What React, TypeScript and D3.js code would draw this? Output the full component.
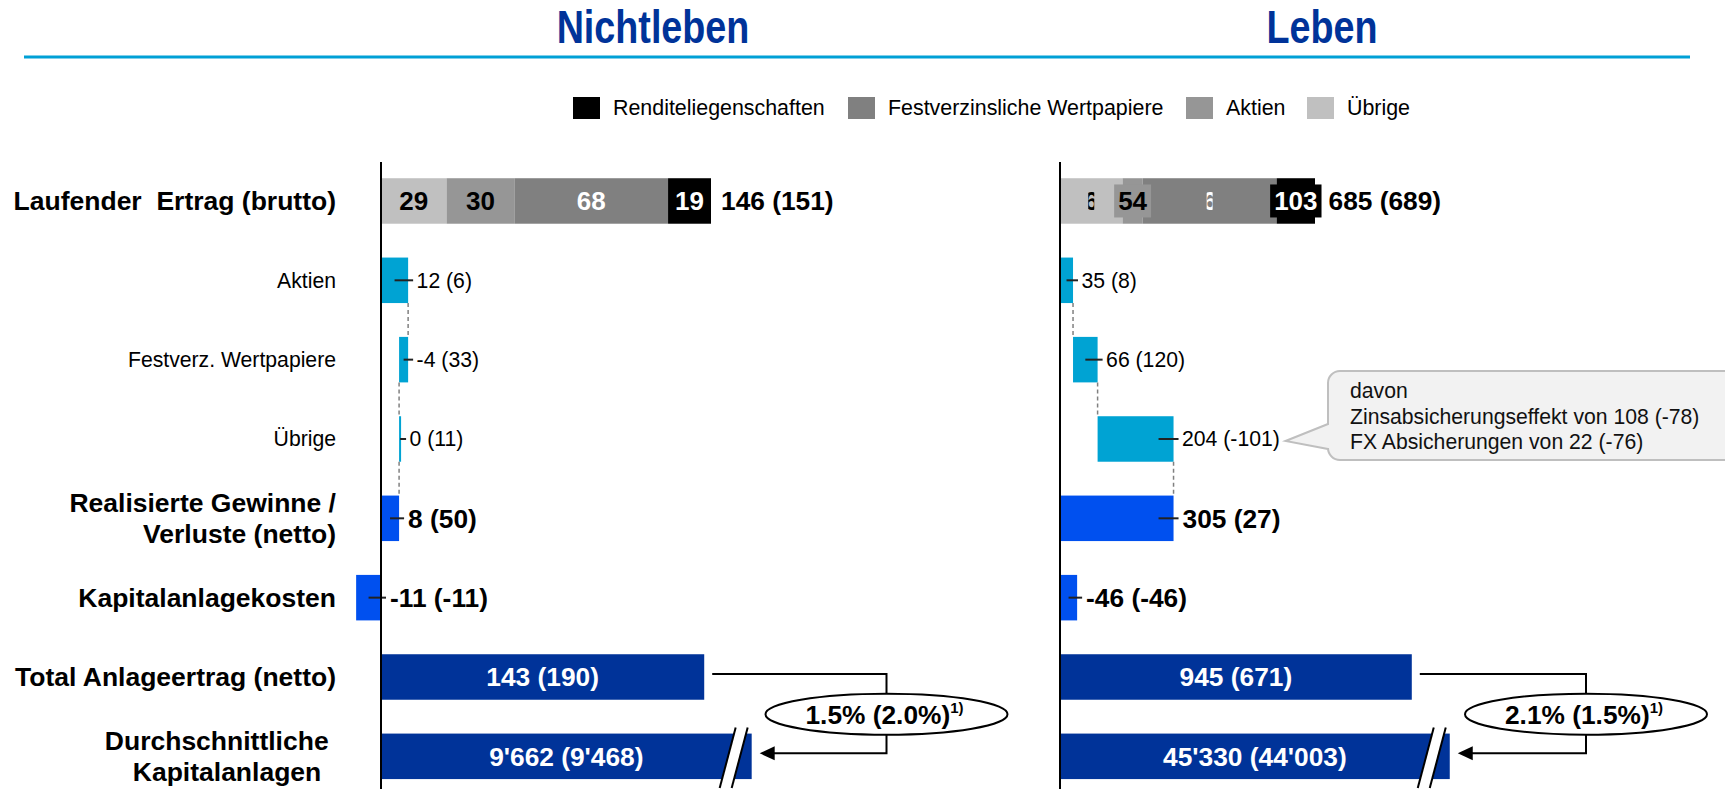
import React from 'react';
import * as d3 from 'd3';

// ---------------- data ----------------
const panels = ['Nichtleben', 'Leben'];

const rowKeys = ['laufend', 'aktien', 'festverz', 'uebrige', 'realisiert', 'kosten', 'total', 'durchschnitt'];
const rowLabels = [
  ['Laufender  Ertrag (brutto)'],
  ['Aktien'],
  ['Festverz. Wertpapiere'],
  ['Übrige'],
  ['Realisierte Gewinne /', 'Verluste (netto)'],
  ['Kapitalanlagekosten'],
  ['Total Anlageertrag (netto)'],
  ['Durchschnittliche ', 'Kapitalanlagen  '],
];
const rowBold = [true, false, false, false, true, true, true, true];

// stacked "Laufender Ertrag" segments, in drawing order (left to right)
const segmentNames = ['Übrige', 'Aktien', 'Festverzinsliche Wertpapiere', 'Renditeliegenschaften'];
const segmentColors = ['#c0c0c0', '#969696', '#808080', '#000000'];
const segmentTextColors = ['#000000', '#000000', '#ffffff', '#ffffff'];
const legendOrder = ['Renditeliegenschaften', 'Festverzinsliche Wertpapiere', 'Aktien', 'Übrige'];

const laufendNichtleben = [29, 30, 68, 19];
const laufendLeben = [168, 54, 360, 103];
const laufendTotalLabels = ['146 (151)', '685 (689)'];
// label display style per segment: full text, label box, or clipped
const laufendLabelModeNichtleben = ['full', 'full', 'full', 'full'];
const laufendLabelModeLeben = ['clip', 'box', 'clip', 'box'];

// waterfall: Aktien, Festverz. Wertpapiere, Übrige
const waterfallNichtleben = [12, -4, 0];
const waterfallLeben = [35, 66, 204];
const waterfallLabelsNichtleben = ['12 (6)', '-4 (33)', '0 (11)'];
const waterfallLabelsLeben = ['35 (8)', '66 (120)', '204 (-101)'];

const realisiertValues = [8, 305];
const realisiertLabels = ['8 (50)', '305 (27)'];
const kostenValues = [-11, -46];
const kostenLabels = ['-11 (-11)', '-46 (-46)'];
const totalValues = [143, 945];
const totalLabels = ['143 (190)', '945 (671)'];
const durchschnittValues = [9662, 45330];
const durchschnittLabels = ["9'662 (9'468)", "45'330 (44'003)"];
// broken bar: shown length on the axis scale
const durchschnittShown = [164, 1047];
const renditeLabels = ['1.5% (2.0%)', '2.1% (1.5%)'];
const calloutLines = ['davon', 'Zinsabsicherungseffekt von 108 (-78)', 'FX Absicherungen von 22 (-76)'];

// ---------------- layout ----------------
const W = 1725;
const H = 789;
const FONT = "'Liberation Sans', Arial, Helvetica, sans-serif";
const AXIS_X = [381, 1060];
const LAUF_END_X = [711, 1315];
const TITLE_X = [653, 1322];
const RATIO_X = [886.5, 1586];
const LEGEND_X = [573, 848, 1186, 1307];
const BLUE_DARK = '#003399';
const BLUE = '#0050ef';
const CYAN = '#00a3d3';

const y = d3.scaleBand<string>().domain(rowKeys).range([161.3, 796]).paddingInner(0.4265).paddingOuter(0.2133);
const yc = (k: string) => (y(k) as number) + y.bandwidth() / 2;
const bh = y.bandwidth();

function approxWidth(s: string, size: number) {
  // rough Arial bold digit widths
  let w = 0;
  for (const ch of s) {
    if (/[0-9]/.test(ch)) w += 0.556;
    else if (ch === ' ') w += 0.278;
    else w += 0.333;
  }
  return w * size;
}

function Panel({ pi }: { pi: number }) {
  const laufend = pi === 0 ? laufendNichtleben : laufendLeben;
  const modes = pi === 0 ? laufendLabelModeNichtleben : laufendLabelModeLeben;
  const wf = pi === 0 ? waterfallNichtleben : waterfallLeben;
  const wfLabels = pi === 0 ? waterfallLabelsNichtleben : waterfallLabelsLeben;
  const lsum = d3.sum(laufend);
  const x = d3.scaleLinear().domain([0, lsum]).range([AXIS_X[pi], LAUF_END_X[pi]]);
  const x0 = x(0);
  const els: React.ReactNode[] = [];

  // stacked first row
  const stack = d3.cumsum(laufend);
  const ry = y('laufend') as number;
  const rc = yc('laufend');
  laufend.forEach((v, i) => {
    const a = x(stack[i] - v);
    const b = x(stack[i]);
    els.push(<rect key={'s' + i} x={a} y={ry} width={b - a} height={bh} fill={segmentColors[i]} />);
  });
  laufend.forEach((v, i) => {
    const a = x(stack[i] - v);
    const b = x(stack[i]);
    const cx = (a + b) / 2;
    const txt = String(v);
    const mode = modes[i];
    if (mode === 'box') {
      const tw = approxWidth(txt, 26) + 8;
      els.push(<rect key={'lb' + i} x={cx - tw / 2} y={rc - 16.5} width={tw} height={33} fill={segmentColors[i]} />);
    }
    if (mode === 'clip') {
      const id = `clip-${pi}-${i}`;
      els.push(
        <g key={'lc' + i}>
          <clipPath id={id}><rect x={cx - 3} y={rc - 16} width={6} height={32} /></clipPath>
          <text clipPath={`url(#${id})`} x={cx} y={rc + 9.5} textAnchor="middle" fontWeight="bold" fontSize={26} fill={segmentTextColors[i]}>{txt}</text>
        </g>
      );
    } else {
      els.push(<text key={'lt' + i} x={cx} y={rc + 9.5} textAnchor="middle" fontWeight="bold" fontSize={26} fill={segmentTextColors[i]}>{txt}</text>);
    }
  });
  {
    let endX = x(lsum);
    const lastMode = modes[modes.length - 1];
    if (lastMode === 'box') {
      const last = laufend[laufend.length - 1];
      const cx = (x(lsum - last) + x(lsum)) / 2;
      endX = Math.max(endX, cx + (approxWidth(String(last), 26) + 8) / 2);
      els.push(<text key="lsum" x={endX + 7} y={rc + 9.5} fontWeight="bold" fontSize={26.3}>{laufendTotalLabels[pi]}</text>);
    } else {
      els.push(<text key="lsum" x={endX + 10} y={rc + 9.5} fontWeight="bold" fontSize={26.3}>{laufendTotalLabels[pi]}</text>);
    }
  }

  // helper to draw a value bar with tick + label
  const valueBar = (key: string, a: number, b: number, color: string, label: string, bold: boolean) => {
    const top = y(key) as number;
    const c = yc(key);
    let left = Math.min(x(a), x(b));
    let right = Math.max(x(a), x(b));
    if (right - left < 2) right = left + 2;
    const labelEdge = Math.max(right, x0);
    const tickStart = Math.max(labelEdge - 15, (left + right) / 2);
    els.push(<rect key={'b' + key} x={left} y={top} width={right - left} height={bh} fill={color} />);
    els.push(<line key={'t' + key} x1={tickStart} x2={labelEdge + 5} y1={c} y2={c} stroke="#222" strokeWidth={2} />);
    els.push(
      <text key={'v' + key} x={labelEdge + (bold ? 9 : 8.5)} y={c + (bold ? 9.5 : 7.5)} fontSize={bold ? 26.3 : 21.2} fontWeight={bold ? 'bold' : 'normal'}>
        {label}
      </text>
    );
  };

  // waterfall
  const wfKeys = ['aktien', 'festverz', 'uebrige'];
  let cum = 0;
  const ends: number[] = [];
  wf.forEach((v, i) => {
    valueBar(wfKeys[i], cum, cum + v, CYAN, wfLabels[i], false);
    cum += v;
    ends.push(cum);
  });
  // dashed connectors
  const chain = [...wfKeys, 'realisiert'];
  for (let i = 0; i < wfKeys.length; i++) {
    const cx = x(ends[i]);
    const y1 = (y(chain[i]) as number) + bh;
    const y2 = y(chain[i + 1]) as number;
    els.push(<line key={'d' + i} x1={cx} x2={cx} y1={y1} y2={y2} stroke="#808080" strokeWidth={1.5} strokeDasharray="4,3" />);
  }
  valueBar('realisiert', 0, realisiertValues[pi], BLUE, realisiertLabels[pi], true);
  // cost bar: Nichtleben drawn to the left, Leben drawn to the right (as in source)
  const kv = kostenValues[pi];
  valueBar('kosten', 0, pi === 0 ? kv : -kv, BLUE, kostenLabels[pi], true);

  // total
  const tTop = y('total') as number;
  const tEnd = x(totalValues[pi]);
  els.push(<rect key="tot" x={x0} y={tTop} width={tEnd - x0} height={bh} fill={BLUE_DARK} />);
  els.push(<text key="totl" x={(x0 + tEnd) / 2} y={yc('total') + 9.5} textAnchor="middle" fontWeight="bold" fontSize={26.3} fill="#fff">{totalLabels[pi]}</text>);

  // durchschnitt (broken bar)
  const dTop = y('durchschnitt') as number;
  const dEnd = x(durchschnittShown[pi]);
  els.push(<rect key="dur" x={x0} y={dTop} width={dEnd - x0} height={bh} fill={BLUE_DARK} />);
  els.push(<text key="durl" x={(x0 + dEnd) / 2} y={yc('durchschnitt') + 9.5} textAnchor="middle" fontWeight="bold" fontSize={26.3} fill="#fff">{durchschnittLabels[pi]}</text>);
  {
    const yb = dTop + bh + 9;
    const yt = dTop - 6;
    const bl = dEnd - 32, br = dEnd - 20, tl = dEnd - 16, tr = dEnd - 4;
    els.push(<polygon key="brk" points={`${bl},${yb} ${tl},${yt} ${tr},${yt} ${br},${yb}`} fill="#fff" />);
    els.push(<line key="brk1" x1={bl} y1={yb} x2={tl} y2={yt} stroke="#000" strokeWidth={2} />);
    els.push(<line key="brk2" x1={br} y1={yb} x2={tr} y2={yt} stroke="#000" strokeWidth={2} />);
  }

  // ratio connector
  {
    const cx = RATIO_X[pi];
    const yT = yc('total') - 3;
    const yD = yc('durchschnitt') - 3;
    const ecy = (yT + yD) / 2 + 0.5;
    const erx = 121, ery = 20.5;
    const tip = dEnd + 8;
    els.push(<path key="con" d={`M${tEnd + 8},${yT} H${cx} V${ecy} M${cx},${ecy} V${yD} H${tip + 12}`} fill="none" stroke="#000" strokeWidth={2} />);
    els.push(<polygon key="arr" points={`${tip},${yD} ${tip + 15},${yD - 7} ${tip + 15},${yD + 7}`} fill="#000" />);
    els.push(<ellipse key="ell" cx={cx} cy={ecy} rx={erx} ry={ery} fill="#fff" stroke="#000" strokeWidth={2} />);
    els.push(
      <text key="ellt" x={cx - 2} y={ecy + 9.5} textAnchor="middle" fontWeight="bold" fontSize={26.3}>
        {renditeLabels[pi]}
        <tspan fontSize={15} dy={-11}>1)</tspan>
      </text>
    );
  }

  // callout (Leben only)
  if (pi === 1) {
    const bx = 1328, by = 371, bb = 460, r = 12, right = 1750;
    const c = yc('uebrige');
    const tipX = x(ends[2]) + 112;
    const d = `M${bx + r},${by} H${right} V${bb} H${bx + r} A${r},${r} 0 0 1 ${bx},${bb - r} V${c + 10} L${tipX},${c + 2} L${bx},${c - 15} V${by + r} A${r},${r} 0 0 1 ${bx + r},${by} Z`;
    els.push(<path key="call" d={d} fill="#f2f2f2" stroke="#bfbfbf" strokeWidth={2} />);
    calloutLines.forEach((t, i) => {
      els.push(<text key={'cl' + i} x={bx + 22} y={by + 27 + i * 25.5} fontSize={21.2} fill="#111">{t}</text>);
    });
  }

  // axis
  els.push(<line key="axis" x1={x0} x2={x0} y1={162} y2={H} stroke="#000" strokeWidth={2} />);

  // title
  els.push(
    <text key="title" transform={`translate(${TITLE_X[pi]},43) scale(0.82,1)`} textAnchor="middle" fontWeight="bold" fontSize={46} fill={BLUE_DARK}>
      {panels[pi]}
    </text>
  );

  return <g>{els}</g>;
}

export default function App() {
  return (
    <svg
      width={W}
      height={H}
      viewBox={`0 0 ${W} ${H}`}
      style={{ position: 'absolute', left: 0, top: 0, display: 'block', background: '#fff' }}
      fontFamily={FONT}
    >
      <rect x={0} y={0} width={W} height={H} fill="#fff" />
      <line x1={24} x2={1690} y1={57} y2={57} stroke="#00a0d6" strokeWidth={3} />
      {/* legend */}
      {legendOrder.map((name, i) => {
        const si = segmentNames.indexOf(name);
        return (
          <g key={name}>
            <rect x={LEGEND_X[i]} y={97} width={27} height={22} fill={segmentColors[si]} />
            <text x={LEGEND_X[i] + 40} y={115} fontSize={21.4}>{name}</text>
          </g>
        );
      })}
      {/* row labels */}
      {rowKeys.map((k, i) => {
        const lines = rowLabels[i];
        const bold = rowBold[i];
        const c = yc(k);
        const off = bold ? 9.5 : 7.5;
        return (
          <text key={k} textAnchor="end" fontSize={bold ? 26.5 : 21.2} fontWeight={bold ? 'bold' : 'normal'} style={{ whiteSpace: 'pre' }}>
            {lines.map((ln, j) => (
              <tspan key={j} x={336} y={c + off + (lines.length === 1 ? 0 : (j - 0.5) * 31)}>{ln}</tspan>
            ))}
          </text>
        );
      })}
      <Panel pi={0} />
      <Panel pi={1} />
    </svg>
  );
}
